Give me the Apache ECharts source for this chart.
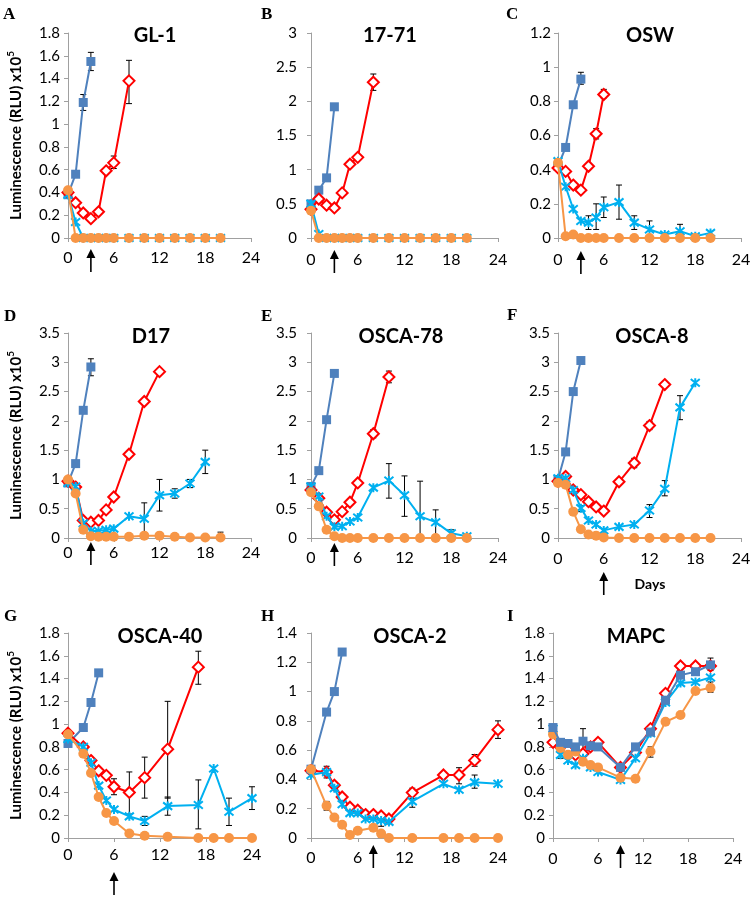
<!DOCTYPE html>
<html><head><meta charset="utf-8">
<script src="https://cdn.jsdelivr.net/npm/echarts@6/dist/echarts.min.js"></script>
<style>html,body{margin:0;padding:0;background:#fff}#c{width:755px;height:899px}</style>
</head><body><div id="c"></div><script>
// ---------- DATA ----------
const panelNames = ['GL-1','17-71','OSW','D17','OSCA-78','OSCA-8','OSCA-40','OSCA-2','MAPC'];
const panelLetters = ['A','B','C','D','E','F','G','H','I'];
const yMax = [1.8, 3, 1.2, 3.5, 3.5, 3.5, 1.8, 1.4, 1.8];
const yStep = [0.2, 0.5, 0.2, 0.5, 0.5, 0.5, 0.2, 0.2, 0.2];
const xMin = 0, xMax = 24, xStep = 6;
const arrowDays = [3, 3, 3, 3, 3, 6, 6, 8, 9];
const yAxisTitle = 'Luminescence (RLU) x10';
const yAxisTitleExp = '5';
const xAxisTitle = 'Days';

// [day, value]; errors: [day, low, high]
const A_blue = [[0,0.38],[1,0.56],[2,1.19],[3,1.55]];
const A_red = [[0,0.40],[1,0.31],[2,0.22],[3,0.17],[4,0.23],[5,0.59],[6,0.66],[8,1.38]];
const A_cyan = [[0,0.38],[1,0.14],[2,0],[3,0],[4,0],[5,0],[6,0],[8,0],[10,0],[12,0],[14,0],[16,0],[18,0],[20,0]];
const A_orange = [[0,0.42],[1,0],[2,0],[3,0],[4,0],[5,0],[6,0],[8,0],[10,0],[12,0],[14,0],[16,0],[18,0],[20,0]];
const A_err = [[2,1.12,1.26],[3,1.47,1.63],[6,0.61,0.72],[8,1.18,1.56]];

const B_blue = [[0,0.50],[1,0.70],[2,0.88],[3,1.92]];
const B_red = [[0,0.42],[1,0.57],[2,0.48],[3,0.44],[4,0.66],[5,1.08],[6,1.18],[8,2.28]];
const B_cyan = [[0,0.50],[1,0.06],[2,0],[3,0],[4,0],[5,0],[6,0],[8,0],[10,0],[12,0],[14,0],[16,0],[18,0],[20,0]];
const B_orange = [[0,0.40],[1,0],[2,0],[3,0],[4,0],[5,0],[6,0],[8,0],[10,0],[12,0],[14,0],[16,0],[18,0],[20,0]];
const B_err = [[8,2.16,2.40]];

const C_blue = [[0,0.42],[1,0.53],[2,0.78],[3,0.93]];
const C_red = [[0,0.41],[1,0.39],[2,0.31],[3,0.28],[4,0.42],[5,0.61],[6,0.84]];
const C_cyan = [[0,0.45],[1,0.30],[2,0.17],[3,0.10],[4,0.09],[5,0.12],[6,0.18],[8,0.21],[10,0.09],[12,0.05],[14,0.02],[16,0.04],[18,0.01],[20,0.03]];
const C_orange = [[0,0.44],[1,0.01],[2,0.02],[3,0],[4,0],[5,0],[6,0],[8,0],[10,0],[12,0],[14,0],[16,0],[18,0],[20,0]];
const C_err = [[3,0.90,0.97],[5,0.58,0.64],[6,0.82,0.87],[4,0.05,0.13],[5,0.05,0.20],[6,0.12,0.24],[8,0.11,0.31],[10,0.05,0.13],[12,0.0,0.10],[16,0.0,0.08]];

const D_blue = [[0,0.94],[1,1.27],[2,2.18],[3,2.92]];
const D_red = [[0,0.97],[1,0.87],[2,0.30],[3,0.27],[4,0.30],[5,0.48],[6,0.70],[8,1.43],[10,2.33],[12,2.84]];
const D_cyan = [[0,0.94],[1,0.88],[2,0.25],[3,0.12],[4,0.12],[5,0.14],[6,0.16],[8,0.37],[10,0.33],[12,0.73],[14,0.76],[16,0.93],[18,1.30]];
const D_orange = [[0,1.0],[1,0.76],[2,0.14],[3,0.03],[4,0.02],[5,0.02],[6,0.02],[8,0.02],[10,0.04],[12,0.04],[14,0.02],[16,0.01],[18,0.01],[20,0.01]];
const D_err = [[3,2.77,3.06],[12,2.80,2.88],[10,0.06,0.60],[12,0.46,1.00],[14,0.68,0.84],[16,0.86,1.00],[18,1.10,1.50],[20,0,0.10]];

const E_blue = [[0,0.88],[1,1.15],[2,2.02],[3,2.81]];
const E_red = [[0,0.82],[1,0.68],[2,0.44],[3,0.31],[4,0.45],[5,0.61],[6,0.94],[8,1.78],[10,2.75]];
const E_cyan = [[0,0.88],[1,0.71],[2,0.37],[3,0.19],[4,0.20],[5,0.28],[6,0.35],[8,0.86],[10,0.98],[12,0.73],[14,0.37],[16,0.27],[18,0.08],[20,0.03]];
const E_orange = [[0,0.78],[1,0.54],[2,0.14],[3,0.03],[4,0],[5,0],[6,0],[8,0],[10,0],[12,0],[14,0],[16,0],[18,0],[20,0]];
const E_err = [[8,1.71,1.85],[10,2.65,2.85],[10,0.68,1.27],[12,0.37,1.06],[14,0,0.97],[16,0.05,0.48],[18,0.02,0.14]];

const F_blue = [[0,1.0],[1,1.47],[2,2.50],[3,3.03]];
const F_red = [[0,0.97],[1,1.05],[2,0.82],[3,0.74],[4,0.62],[5,0.53],[6,0.46],[8,0.96],[10,1.28],[12,1.92],[14,2.62]];
const F_cyan = [[0,1.02],[1,1.02],[2,0.82],[3,0.51],[4,0.30],[5,0.23],[6,0.13],[8,0.19],[10,0.23],[12,0.47],[14,0.84],[16,2.23],[18,2.65]];
const F_orange = [[0,0.94],[1,0.91],[2,0.45],[3,0.15],[4,0.06],[5,0.04],[6,0.01],[8,0],[10,0],[12,0],[14,0],[16,0],[18,0],[20,0]];
const F_err = [[10,1.20,1.36],[12,1.85,1.99],[14,2.58,2.66],[12,0.35,0.57],[14,0.72,0.98],[16,2.02,2.43],[3,0.45,0.55]];

const G_blue = [[0,0.83],[2,0.97],[3,1.19],[4,1.45]];
const G_red = [[0,0.92],[2,0.80],[3,0.68],[4,0.59],[5,0.55],[6,0.45],[8,0.40],[10,0.53],[13,0.78],[17,1.50]];
const G_cyan = [[0,0.87],[2,0.80],[3,0.66],[4,0.46],[5,0.33],[6,0.25],[8,0.19],[10,0.15],[13,0.28],[17,0.29],[19,0.61],[21,0.23],[24,0.35]];
const G_orange = [[0,0.91],[2,0.74],[3,0.57],[4,0.36],[5,0.22],[6,0.15],[8,0.04],[10,0.02],[13,0.01],[17,0],[19,0],[21,0],[24,0]];
const G_err = [[3,1.16,1.22],[6,0.38,0.52],[8,0.21,0.58],[10,0.35,0.71],[13,0.35,1.20],[17,1.35,1.64],[10,0.11,0.19],[13,0.20,0.36],[17,0.08,0.51],[21,0.11,0.35],[24,0.25,0.45]];

const H_blue = [[0,0.47],[2,0.86],[3,1.00],[4,1.27]];
const H_red = [[0,0.46],[2,0.45],[3,0.36],[4,0.28],[5,0.21],[6,0.19],[7,0.16],[8,0.16],[9,0.15],[10,0.13],[13,0.31],[17,0.43],[19,0.43],[21,0.53],[24,0.74]];
const H_cyan = [[0,0.43],[2,0.45],[3,0.34],[4,0.23],[5,0.17],[6,0.17],[7,0.13],[8,0.13],[9,0.12],[10,0.11],[13,0.25],[17,0.37],[19,0.33],[21,0.38],[24,0.37]];
const H_orange = [[0,0.47],[2,0.22],[3,0.14],[4,0.09],[5,0.02],[6,0.05],[8,0.07],[9,0.03],[10,0],[13,0],[17,0],[19,0],[21,0],[24,0]];
const H_err = [[2,0.41,0.49],[13,0.27,0.34],[19,0.37,0.48],[21,0.49,0.57],[24,0.68,0.80],[13,0.21,0.29],[21,0.34,0.43],[2,0.19,0.25],[9,0.08,0.12]];

const I_blue = [[0,0.97],[1,0.84],[2,0.83],[3,0.80],[4,0.85],[5,0.81],[6,0.80],[9,0.62],[11,0.80],[13,0.93],[15,1.21],[17,1.43],[19,1.46],[21,1.52]];
const I_red = [[0,0.84],[1,0.80],[2,0.77],[3,0.73],[4,0.74],[5,0.80],[6,0.84],[9,0.62],[11,0.75],[13,0.96],[15,1.27],[17,1.51],[19,1.51],[21,1.51]];
const I_cyan = [[0,0.96],[1,0.73],[2,0.68],[3,0.64],[4,0.70],[5,0.62],[6,0.58],[9,0.51],[11,0.70],[13,0.92],[15,1.19],[17,1.36],[19,1.37],[21,1.41]];
const I_orange = [[0,0.91],[1,0.79],[2,0.73],[3,0.76],[4,0.67],[5,0.64],[6,0.62],[9,0.53],[11,0.52],[13,0.76],[15,1.02],[17,1.08],[19,1.29],[21,1.32]];
const I_err = [[4,0.75,0.96],[21,1.47,1.58],[21,1.28,1.37],[13,0.71,0.80],[1,0.70,0.78]];

// ---------- LAYOUT / STYLE ----------
const panels = [
  [A_blue,A_red,A_cyan,A_orange,A_err],
  [B_blue,B_red,B_cyan,B_orange,B_err],
  [C_blue,C_red,C_cyan,C_orange,C_err],
  [D_blue,D_red,D_cyan,D_orange,D_err],
  [E_blue,E_red,E_cyan,E_orange,E_err],
  [F_blue,F_red,F_cyan,F_orange,F_err],
  [G_blue,G_red,G_cyan,G_orange,G_err],
  [H_blue,H_red,H_cyan,H_orange,H_err],
  [I_blue,I_red,I_cyan,I_orange,I_err]
];
const gridBoxes = [
  [68,33,183,205],[311,33,187,205],[558,33,183,205],
  [68,333,183,205],[311,333,187,205],[558,333,183,205],
  [68,633,184,205],[311,633,187,205],[553,633,180,205]
];
const yLabelMargin = [8,14,7,8,14,8,8,14,8];
const xLabelMargin = [12,14,14,7,12,13,9,12,13];
const titlePos = [[155,36],[390,36],[650,36],[151,337],[401,337],[652,337],[160,637],[410,637],[636,637]];
const letterPos = [[3,6],[261,6],[506,6],[4,308],[261,308],[507,307],[4,608],[261,608],[507,608]];
const arrowTipOffset = [11,12,13,4,5,34,34,7,7];
const arrowLen = 23;

const COL_BLUE = '#4f81bd', COL_RED = '#ff0000', COL_CYAN = '#00b0f0', COL_ORANGE = '#f79646';
const AXIS_COL = '#a0a0a0';
const FONT = 'Lato, "Open Sans", sans-serif';
const starPath = 'path://M0,0L10,10M10,0L0,10M5,-1L5,11';

const chart = echarts.init(document.getElementById('c'), null, {renderer: 'canvas'});

const grids = [], xAxes = [], yAxes = [], series = [];
panels.forEach((p, i) => {
  const b = gridBoxes[i];
  grids.push({left: b[0], top: b[1], width: b[2], height: b[3], containLabel: false, show: false});
  xAxes.push({
    type: 'value', gridIndex: i, min: xMin, max: xMax, interval: xStep,
    axisLine: {show: true, onZero: false, lineStyle: {color: AXIS_COL, width: 1}},
    axisTick: {show: true, inside: false, length: 4, lineStyle: {color: AXIS_COL}},
    splitLine: {show: false},
    axisLabel: {show: true, color: '#000', fontFamily: FONT, fontSize: 16, margin: xLabelMargin[i], showMinLabel: true, showMaxLabel: true, hideOverlap: false}
  });
  const ya = {
    type: 'value', gridIndex: i, min: 0, max: yMax[i], interval: yStep[i],
    axisLine: {show: true, lineStyle: {color: AXIS_COL, width: 1}},
    axisTick: {show: true, inside: false, length: 4, lineStyle: {color: AXIS_COL}},
    splitLine: {show: false},
    axisLabel: {show: true, color: '#000', fontFamily: FONT, fontSize: 15, margin: yLabelMargin[i], showMinLabel: true, showMaxLabel: true, hideOverlap: false}
  };
  if (i % 3 === 0) {
    ya.name = yAxisTitle + '{s|' + yAxisTitleExp + '}';
    ya.nameLocation = 'middle';
    ya.nameGap = 42;
    ya.nameRotate = 90;
    ya.nameTextStyle = {color: '#000', fontFamily: FONT, fontWeight: 'bold', fontSize: 15,
      rich: {s: {fontSize: 10, fontWeight: 'bold', fontFamily: FONT, color: '#000', verticalAlign: 'top', lineHeight: 20}}};
  }
  yAxes.push(ya);

  const base = {type: 'line', xAxisIndex: i, yAxisIndex: i, clip: false, silent: true, animation: false};
  series.push({type: 'custom', xAxisIndex: i, yAxisIndex: i, data: p[4], z: 1, silent: true, animation: false, clip: false,
    encode: {x: 0, y: [1, 2]},
    renderItem: function (params, api) {
      const d = api.value(0), lo = api.value(1), hi = api.value(2);
      const a = api.coord([d, lo]), c = api.coord([d, hi]);
      const w = 3, st = {stroke: '#000', lineWidth: 1};
      return {type: 'group', children: [
        {type: 'line', shape: {x1: a[0], y1: a[1], x2: c[0], y2: c[1]}, style: st},
        {type: 'line', shape: {x1: a[0]-w, y1: a[1], x2: a[0]+w, y2: a[1]}, style: st},
        {type: 'line', shape: {x1: c[0]-w, y1: c[1], x2: c[0]+w, y2: c[1]}, style: st}
      ]};
    }
  });
  series.push(Object.assign({}, base, {data: p[0], z: i === 8 ? 7 : 2, symbol: 'rect', symbolSize: 9,
    itemStyle: {color: COL_BLUE}, lineStyle: {color: COL_BLUE, width: 2}}));
  series.push(Object.assign({}, base, {data: p[1], z: 3, symbol: 'diamond', symbolSize: 11,
    itemStyle: {color: '#ffffff', borderColor: COL_RED, borderWidth: 2}, lineStyle: {color: COL_RED, width: 2}}));
  series.push(Object.assign({}, base, {data: p[2], z: 4, symbol: starPath, symbolSize: 9,
    itemStyle: {color: COL_CYAN, borderColor: COL_CYAN, borderWidth: 2}, lineStyle: {color: COL_CYAN, width: 2}}));
  series.push(Object.assign({}, base, {data: p[3], z: 5, symbol: 'circle', symbolSize: 10,
    itemStyle: {color: COL_ORANGE}, lineStyle: {color: COL_ORANGE, width: 2}}));
});

chart.setOption({animation: false, backgroundColor: '#fff', grid: grids, xAxis: xAxes, yAxis: yAxes, series: series});

// ---------- ANNOTATIONS ----------
const g = [];
panelNames.forEach((n, i) => {
  g.push({type: 'text', x: titlePos[i][0], y: titlePos[i][1], silent: true,
    style: {text: n, fill: '#000', font: 'bold 20px ' + FONT, align: 'center', verticalAlign: 'middle'}});
  g.push({type: 'text', x: letterPos[i][0], y: letterPos[i][1], silent: true,
    style: {text: panelLetters[i], fill: '#000', font: 'bold 17px "Liberation Serif", serif', align: 'left', verticalAlign: 'top'}});
  const px = chart.convertToPixel({xAxisIndex: i}, arrowDays[i]);
  const b = gridBoxes[i];
  const tip = b[1] + b[3] + arrowTipOffset[i];
  g.push({type: 'line', silent: true, shape: {x1: px, y1: tip + 6, x2: px, y2: tip + arrowLen}, style: {stroke: '#000', lineWidth: 1.6}});
  g.push({type: 'polygon', silent: true, shape: {points: [[px, tip], [px - 4.5, tip + 9], [px + 4.5, tip + 9]]}, style: {fill: '#000'}});
});
g.push({type: 'text', x: 650, y: 584, silent: true,
  style: {text: xAxisTitle, fill: '#000', font: 'bold 14px ' + FONT, align: 'center', verticalAlign: 'middle'}});
chart.setOption({graphic: {elements: g}});
</script></body></html>
